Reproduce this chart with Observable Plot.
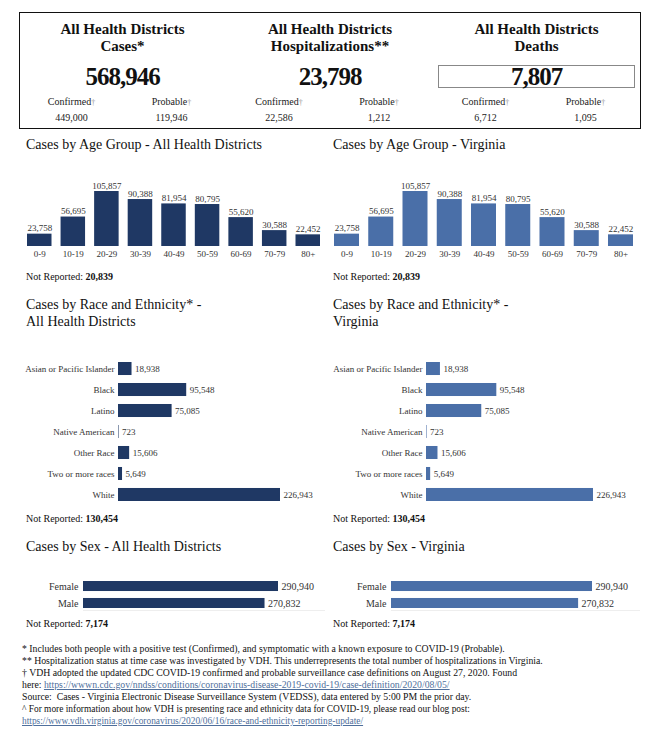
<!DOCTYPE html>
<html><head><meta charset="utf-8">
<script src="https://cdn.jsdelivr.net/npm/d3@7"></script>
<script src="https://cdn.jsdelivr.net/npm/@observablehq/plot@0.6"></script>
<style>
body{margin:0;background:#fff;font-family:'Liberation Serif',Tinos,'Times New Roman',Times,'DejaVu Serif',serif;color:#111;}
#page{position:relative;width:649px;height:732px;overflow:hidden;background:#fff;}
.abs{position:absolute;white-space:nowrap;}
.box{position:absolute;left:19px;top:12px;width:620px;height:115px;border:1px solid #111;}
.dbox{position:absolute;left:438px;top:65px;width:195px;height:21px;border:1.5px solid #888;}
.ttl{font-weight:bold;font-size:15px;line-height:17px;text-align:center;color:#111;}
.big{font-weight:bold;font-size:25px;line-height:26px;letter-spacing:-1px;text-align:center;color:#111;}
.sub{font-size:10px;line-height:12px;text-align:center;color:#222;}
.dg{color:#999;font-size:8px;}
.sec{font-size:14px;line-height:17px;color:#111;}
.nr{font-size:10px;line-height:12px;color:#111;}
.notes{font-size:9.75px;line-height:12px;color:#111;}
.notes a{color:#4f6f9c;text-decoration:underline;}
.small{font-size:9.4px;}
.faint{position:absolute;height:1px;background:#eeeeee;}
svg text{font-family:'Liberation Serif',Tinos,'Times New Roman',Times,'DejaVu Serif',serif;}
</style></head><body><div id="page"></div>
<script>
// ---- data ----
const summaryTitles = ["Cases*", "Hospitalizations**", "Deaths"];
const summaryTotals = [568946, 23798, 7807];
const summaryConfirmed = [449000, 22586, 6712];
const summaryProbable = [119946, 1212, 1095];

const ageGroups = ["0-9", "10-19", "20-29", "30-39", "40-49", "50-59", "60-69", "70-79", "80+"];
const ageCases = [23758, 56695, 105857, 90388, 81954, 80795, 55620, 30588, 22452];
const ageNotReported = 20839;

const races = ["Asian or Pacific Islander", "Black", "Latino", "Native American", "Other Race", "Two or more races", "White"];
const raceCases = [18938, 95548, 75085, 723, 15606, 5649, 226943];
const raceNotReported = 130454;

const sexes = ["Female", "Male"];
const sexCases = [290940, 270832];
const sexNotReported = 7174;

const darkBlue = "#1f3864";
const lightBlue = "#4a6fa8";
const fmt = d3.format(",");
const serif = "'Liberation Serif',Tinos,'Times New Roman',Times,'DejaVu Serif',serif";

const page = document.getElementById("page");
function add(html, cls, left, top, width) {
  const d = document.createElement("div");
  d.className = "abs " + (cls || "");
  d.style.left = left + "px";
  d.style.top = top + "px";
  if (width != null) d.style.width = width + "px";
  d.innerHTML = html;
  page.appendChild(d);
  return d;
}

// ---- summary box ----
const b = document.createElement("div"); b.className = "box"; page.appendChild(b);
const db = document.createElement("div"); db.className = "dbox"; page.appendChild(db);
const colCenters = [122.5, 330, 536.5];
summaryTitles.forEach((t, i) => {
  const c = colCenters[i];
  add("All Health Districts<br>" + t, "ttl", c - 100, 21, 200);
  add(fmt(summaryTotals[i]), "big", c - 100, 64, 200);
  add('Confirmed<span class="dg">†</span>', "sub", c - 51 - 50, 96, 100);
  add('Probable<span class="dg">†</span>', "sub", c + 49 - 50, 96, 100);
  add(fmt(summaryConfirmed[i]), "sub", c - 51 - 50, 112, 100);
  add(fmt(summaryProbable[i]), "sub", c + 49 - 50, 112, 100);
});

// ---- chart builders ----
const baseStyle = {fontFamily: serif, fontSize: "9px", color: "#333", background: "transparent", overflow: "visible"};

function ageChart(color, width, mL, mR) {
  const data = ageGroups.map((g, i) => ({group: g, value: ageCases[i]}));
  return Plot.plot({
    width, height: 96, marginLeft: mL, marginRight: mR, marginTop: 21, marginBottom: 20,
    style: baseStyle,
    x: {domain: ageGroups, paddingInner: 0.27, paddingOuter: 0, round: false, label: null},
    y: {domain: [0, d3.max(ageCases)], axis: null},
    marks: [
      Plot.barY(data, {x: "group", y: "value", fill: color}),
      Plot.text(data, {x: "group", y: "value", text: d => fmt(d.value), lineAnchor: "bottom", dy: -3, fill: "#333"}),
      Plot.axisX({tickSize: 0, tickPadding: 4, label: null})
    ]
  });
}

function raceChart(color, width, mL, mR) {
  const data = races.map((r, i) => ({race: r, value: raceCases[i]}));
  return Plot.plot({
    width, height: 166, marginLeft: mL, marginRight: mR, marginTop: 22, marginBottom: 5,
    style: baseStyle,
    y: {domain: races, paddingInner: 0.38, paddingOuter: 0, round: false, label: null},
    x: {domain: [0, d3.max(raceCases)], axis: null},
    marks: [
      Plot.barX(data, {y: "race", x: "value", fill: color}),
      Plot.text(data, {y: "race", x: "value", text: d => fmt(d.value), textAnchor: "start", dx: 3, fill: "#333"}),
      Plot.axisY({tickSize: 0, tickPadding: 4, label: null})
    ]
  });
}

function sexChart(color, width, mL, mR) {
  const data = sexes.map((s, i) => ({sex: s, value: sexCases[i]}));
  return Plot.plot({
    width, height: 45, marginLeft: mL, marginRight: mR, marginTop: 11, marginBottom: 7,
    style: {...baseStyle, fontSize: "10px"},
    y: {domain: sexes, paddingInner: 0.41, paddingOuter: 0, round: false, label: null},
    x: {domain: [0, d3.max(sexCases)], axis: null},
    marks: [
      Plot.barX(data, {y: "sex", x: "value", fill: color}),
      Plot.text(data, {y: "sex", x: "value", text: d => fmt(d.value), textAnchor: "start", dx: 3, fill: "#333"}),
      Plot.axisY({tickSize: 0, tickPadding: 5, label: null})
    ]
  });
}

function place(svg, left, top) {
  const w = document.createElement("div");
  w.className = "abs";
  w.style.left = left + "px";
  w.style.top = top + "px";
  w.appendChild(svg);
  page.appendChild(w);
}

// ---- age section ----
add("Cases by Age Group - All Health Districts", "sec", 26, 136);
add("Cases by Age Group - Virginia", "sec", 333, 136);
place(ageChart(darkBlue, 330, 27, 10), 0, 170);
place(ageChart(lightBlue, 324, 9, 16), 325, 170);
add("Not Reported: <b>" + fmt(ageNotReported) + "</b>", "nr", 26, 271);
add("Not Reported: <b>" + fmt(ageNotReported) + "</b>", "nr", 333, 271);

// ---- race section ----
add("Cases by Race and Ethnicity* -<br>All Health Districts", "sec", 26, 296);
add("Cases by Race and Ethnicity* -<br>Virginia", "sec", 333, 296);
place(raceChart(darkBlue, 330, 118, 50), 0, 340);
place(raceChart(lightBlue, 324, 101, 56), 325, 340);
add("Not Reported: <b>" + fmt(raceNotReported) + "</b>", "nr", 26, 513);
add("Not Reported: <b>" + fmt(raceNotReported) + "</b>", "nr", 333, 513);

// ---- sex section ----
add("Cases by Sex - All Health Districts", "sec", 26, 538);
add("Cases by Sex - Virginia", "sec", 333, 538);
const f1 = document.createElement("div"); f1.className = "faint"; f1.style.left = "83px"; f1.style.top = "610px"; f1.style.width = "242px"; page.appendChild(f1);
const f2 = document.createElement("div"); f2.className = "faint"; f2.style.left = "391px"; f2.style.top = "610px"; f2.style.width = "249px"; page.appendChild(f2);
place(sexChart(darkBlue, 330, 83, 52), 0, 570);
place(sexChart(lightBlue, 324, 66, 57), 325, 570);
add("Not Reported: <b>" + fmt(sexNotReported) + "</b>", "nr", 26, 618);
add("Not Reported: <b>" + fmt(sexNotReported) + "</b>", "nr", 333, 618);

// ---- notes ----
add(
  "* Includes both people with a positive test (Confirmed), and symptomatic with a known exposure to COVID-19 (Probable).<br>" +
  "** Hospitalization status at time case was investigated by VDH. This underrepresents the total number of hospitalizations in Virginia.<br>" +
  "† VDH adopted the updated CDC COVID-19 confirmed and probable surveillance case definitions on August 27, 2020. Found<br>" +
  'here: <a>https://wwwn.cdc.gov/nndss/conditions/coronavirus-disease-2019-covid-19/case-definition/2020/08/05/</a><br>' +
  "Source:&nbsp; Cases - Virginia Electronic Disease Surveillance System (VEDSS), data entered by 5:00 PM the prior day.<br>" +
  '<span class="small">^ For more information about how VDH is presenting race and ethnicity data for COVID-19, please read our blog post:<br>' +
  '<a>https://www.vdh.virginia.gov/coronavirus/2020/06/16/race-and-ethnicity-reporting-update/</a></span>',
  "notes", 22, 643);
</script>
</body></html>
